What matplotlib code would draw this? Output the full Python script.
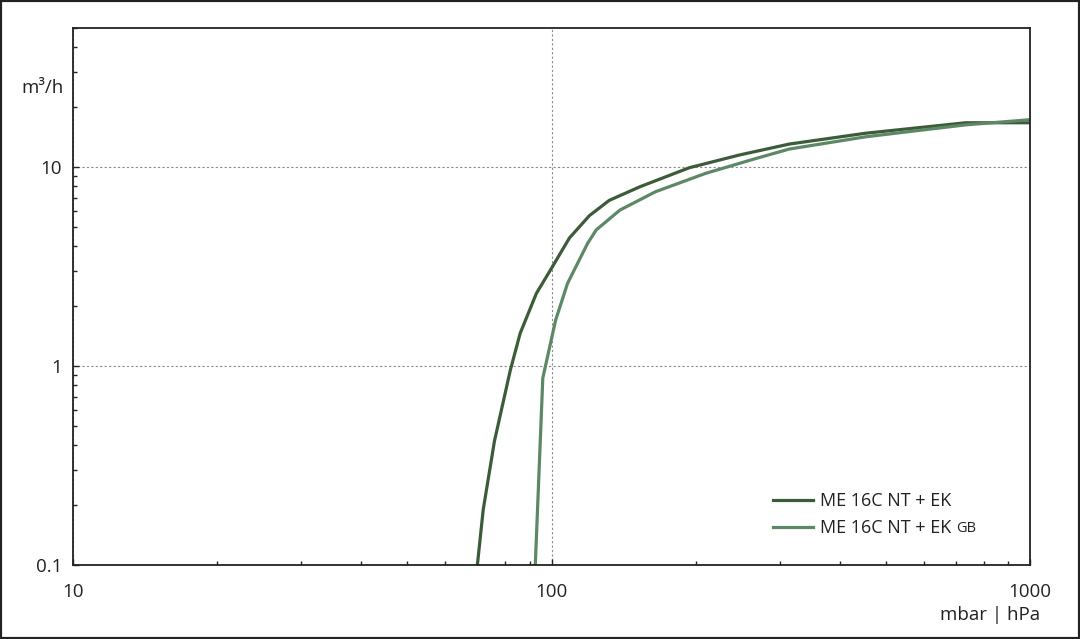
import matplotlib
matplotlib.use('Agg')
import matplotlib.pyplot as plt
from matplotlib.patches import Rectangle
from matplotlib.ticker import FixedLocator, FixedFormatter, LogLocator, NullFormatter

plt.rcParams['font.family'] = ['Open Sans', 'DejaVu Sans']

# pressure (mbar) / flow (m3/h)
p_ek = [70, 72, 76, 82, 86, 93, 100, 109, 120, 132, 153, 194, 247, 314, 454, 734, 1000]
q_ek = [0.1, 0.19, 0.42, 0.95, 1.46, 2.32, 3.1, 4.4, 5.7, 6.8, 7.96, 9.92, 11.5, 13.05, 14.8, 16.7, 16.7]
p_gb = [92.5, 95.9, 102, 108, 119, 124, 139, 165, 210, 268, 314, 454, 734, 1000]
q_gb = [0.1, 0.87, 1.7, 2.6, 4.14, 4.83, 6.08, 7.52, 9.3, 11.06, 12.32, 14.2, 16.3, 17.3]

labels = ['ME 16C NT + EK', 'ME 16C NT + EK']
colors = ['#3c5c39', '#5c8866']

x_ticks = [10, 100, 1000]
y_ticks = [0.1, 1, 10]

fig = plt.figure(figsize=(10.8, 6.39), dpi=100)
ax = fig.add_axes([73/1080, 1 - 565/639, 957/1080, 537/639])

ax.plot(p_ek, q_ek, color=colors[0], lw=2.3, label=labels[0])
ax.plot(p_gb, q_gb, color=colors[1], lw=2.3, label=labels[1])

ax.set_xscale('log')
ax.set_yscale('log')
ax.set_xlim(10, 1000)
ax.set_ylim(0.1, 50)

ax.xaxis.set_major_locator(FixedLocator(x_ticks))
ax.xaxis.set_major_formatter(FixedFormatter([str(v) for v in x_ticks]))
ax.yaxis.set_major_locator(FixedLocator(y_ticks))
ax.yaxis.set_major_formatter(FixedFormatter(['0.1', '1', '10']))
ax.xaxis.set_minor_locator(LogLocator(base=10, subs=range(2, 10)))
ax.yaxis.set_minor_locator(LogLocator(base=10, subs=range(2, 10)))
ax.xaxis.set_minor_formatter(NullFormatter())
ax.yaxis.set_minor_formatter(NullFormatter())

ax.tick_params(which='both', direction='in', color='#222222', width=1.0)
ax.tick_params(which='major', length=4, labelsize=13.5, labelcolor='#222222')
ax.tick_params(which='minor', length=3)
ax.tick_params(axis='x', which='major', pad=13)
ax.tick_params(axis='y', which='major', pad=8)

for s in ax.spines.values():
    s.set_color('#222222')
    s.set_linewidth(1.3)

ax.grid(True, which='major', linestyle=(0, (2, 2)), color='#8a8a8a', linewidth=0.8)

ax.text(-9/957, (565-88)/537, 'm³/h', transform=ax.transAxes, ha='right', va='center',
        fontsize=13.5, color='#222222')
ax.text(1 + 10/957, -50/537, 'mbar | hPa', transform=ax.transAxes, ha='right', va='center',
        fontsize=13.5, color='#222222')

leg = ax.legend(loc='upper left', bbox_to_anchor=(0.722, 0.153), frameon=False,
                fontsize=13, handlelength=2.2, handletextpad=0.4, labelspacing=0.5,
                borderpad=0)
for t in leg.get_texts():
    t.set_color('#222222')

# smaller "GB" suffix after the second legend entry, on the same baseline
fig.canvas.draw()
bb = leg.get_texts()[1].get_window_extent()
fx, fy = fig.transFigure.inverted().transform((bb.x1 + 5, bb.y0 + 1))
fig.text(fx, fy, 'GB', fontsize=10.5, color='#222222', ha='left', va='bottom')

fig.patches.append(Rectangle((0, 0), 1, 1, transform=fig.transFigure, fill=False,
                             edgecolor='#222222', linewidth=3))

fig.savefig('out.png', dpi=100)
